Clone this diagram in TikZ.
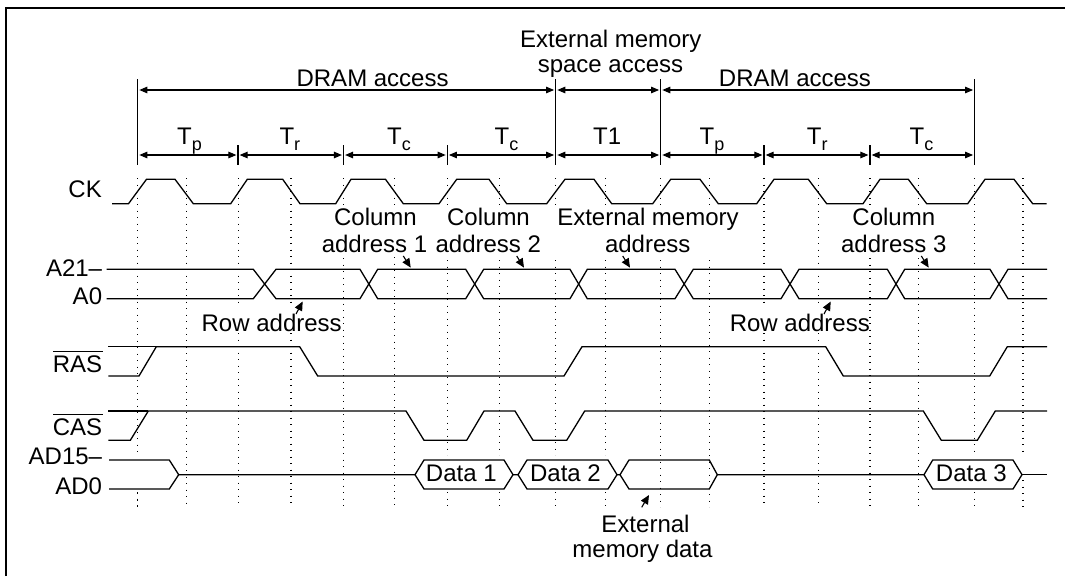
\documentclass[tikz,border=0pt]{standalone}
\usepackage{fontspec}
\setmainfont{Liberation Sans}
\usetikzlibrary{arrows.meta}
\newcommand{\lblfont}{\fontsize{24}{26}\selectfont}
\newcommand{\Tsub}[1]{T\raisebox{-6pt}{\fontsize{18}{18}\selectfont #1}}
\tikzset{
  sig/.style={line width=1.3pt, line join=miter},
  frameline/.style={line width=2pt},
  bar/.style={line width=1.2pt},
  grid/.style={line width=1.1pt, dash pattern=on 1.1pt off 5.4pt},
  dim/.style={line width=1.1pt, {Triangle[length=8pt,width=6.5pt]}-{Triangle[length=8pt,width=6.5pt]}, shorten <=1.6pt, shorten >=1.6pt},
  lbl/.style={font=\lblfont, inner sep=0pt, anchor=base, align=center},
  siglbl/.style={font=\lblfont, inner sep=0pt, anchor=base east},
  tlbl/.style={font=\lblfont, inner sep=0pt, anchor=base west},
  ptr/.style={line width=1.1pt, -{Triangle[length=9pt,width=8pt]}},
}
\begin{document}
\begin{tikzpicture}[x=1pt,y=-1pt]
\useasboundingbox (0,0) rectangle (1065,576);
% frame
\draw[frameline] (6,576) -- (6,8) -- (1065,8);
% dotted grid
\foreach \x/\a/\b/\c/\d in {
 137.7/178/455/493/507,
 186.3/178/340/340/507,
 238.7/178/307/333/507,
 291/178/305/333/507,
 343.7/178/205/258/507,
 394.7/178/205/257/507,
 499.3/178/205/260/455,
 447.3/178/205/260/455,
 555.7/178/205/260/455,
 605.3/178/205/260/455,
 660.7/178/205/260/507,
 709.3/178/205/260/507,
 764/178/307/333/507,
 818.3/178/307/333/507,
 870/178/205/258/507,
 918.3/178/205/258/507,
 974.7/178/340/340/455,
 1023/178/340/340/455}
 { \draw[grid] (\x,\a) -- (\x,\b) (\x,\c) -- (\x,\d); }
\foreach \x in {137.7,447.3,499.3,555.7,605.3,974.7} { \draw[grid] (\x,492) -- (\x,507); }
\draw[grid] (1023,480) -- (1023,507);
% timing bars
\foreach \n/\x in {b0/137.7,b3/555.7,b4/660.7,b7/974.7} {
  \coordinate (\n top) at (\x,79); \coordinate (\n low) at (\x,165);
  \coordinate (\n a) at (\x,90); \coordinate (\n t) at (\x,155);
  \draw[bar] (\n top) -- (\n low);
}
\foreach \n/\x in {s1/238,s2/343.5,s3/447.3,s5/764,s6/870} {
  \coordinate (\n top) at (\x,145); \coordinate (\n low) at (\x,165);
  \coordinate (\n t) at (\x,155);
  \draw[bar] (\n top) -- (\n low);
}
\draw[dim] (b0a) -- (b3a);
\draw[dim] (b3a) -- (b4a);
\draw[dim] (b4a) -- (b7a);
\draw[dim] (b0t) -- (s1t);
\draw[dim] (s1t) -- (s2t);
\draw[dim] (s2t) -- (s3t);
\draw[dim] (s3t) -- (b3t);
\draw[dim] (b3t) -- (b4t);
\draw[dim] (b4t) -- (s5t);
\draw[dim] (s5t) -- (s6t);
\draw[dim] (s6t) -- (b7t);
% top labels
\node[lbl] (dram1) at (372.6,86) {DRAM access};
\node[lbl] (dram2) at (795,86) {DRAM access};
\node[lbl] (ext1) at (610.8,47) {External memory};
\node[lbl] (ext2) at (610.5,72.7) {space access};
\node[tlbl] (t1) at (177,144.7) {\Tsub{p}};
\node[tlbl] (t2) at (279.3,144.7) {\Tsub{r}};
\node[tlbl] (t3) at (387,144.7) {\Tsub{c}};
\node[tlbl] (t4) at (494.4,144.7) {\Tsub{c}};
\node[tlbl] (t5) at (593,144.7) {T1};
\node[tlbl] (t6) at (699.4,144.7) {\Tsub{p}};
\node[tlbl] (t7) at (806.7,144.7) {\Tsub{r}};
\node[tlbl] (t8) at (909.4,144.7) {\Tsub{c}};
% signal labels
\node[siglbl] (ck) at (102,197) {CK};
\node[siglbl] (a21) at (102.3,276) {A21–};
\node[siglbl] (a0) at (102.3,304.7) {A0};
\node[siglbl] (ras) at (102.3,372) {RAS};
\node[siglbl] (cas) at (102.3,435.7) {CAS};
\node[siglbl] (ad15) at (102.3,464.3) {AD15–};
\node[siglbl] (ad0) at (102.3,494) {AD0};
\draw[line width=1pt] (ras.base east) ++(-49,-21) -- ++(50,0);
\draw[line width=1pt] (cas.base east) ++(-49,-21.7) -- ++(50,0);
% CK
\draw[sig] (112,203.7) -- (128.5,203.7) -- (146.5,179.3) -- (175,179.3) -- (193.3,203.7) -- (230.7,203.7)
 -- (247.3,179.3) -- (282.7,179.3) -- (300,203.7) -- (335.7,203.7) -- (351,179.3) -- (385.5,179.3)
 -- (403.3,203.7) -- (439,203.7) -- (456.7,179.3) -- (489,179.3) -- (506.7,203.7) -- (546.7,203.7)
 -- (565,179.3) -- (594,179.3) -- (611.7,203.7) -- (652.7,203.7) -- (670.7,179.3) -- (700,179.3)
 -- (718.3,203.7) -- (756.7,203.7) -- (774,179.3) -- (808.3,179.3) -- (826.7,203.7) -- (863,203.7)
 -- (880,179.3) -- (908.3,179.3) -- (926.7,203.7) -- (967.7,203.7) -- (985,179.3) -- (1014,179.3)
 -- (1032.7,203.7) -- (1046.7,203.7);
% Address bus
\draw[sig] (106.7,269.3) -- (253.3,269.3) -- (276,298.7) -- (360,298.7) -- (377.7,269.3) -- (465.7,269.3)
 -- (483.7,298.7) -- (570,298.7) -- (587.3,269.3) -- (675,269.3) -- (693.3,298.7) -- (781,298.7)
 -- (799,269.3) -- (887.3,269.3) -- (904.7,298.7) -- (990,298.7) -- (1008,269.3) -- (1047,269.3);
\draw[sig] (106.7,298.7) -- (253.3,298.7) -- (276,269.3) -- (360,269.3) -- (377.7,298.7) -- (465.7,298.7)
 -- (483.7,269.3) -- (570,269.3) -- (587.3,298.7) -- (675,298.7) -- (693.3,269.3) -- (781,269.3)
 -- (799,298.7) -- (887.3,298.7) -- (904.7,269.3) -- (990,269.3) -- (1008,298.7) -- (1047,298.7);
% RAS
\draw[sig] (108.3,376) -- (139,376) -- (156.3,346.7) -- (299.7,346.7) -- (317.7,376) -- (564,376)
 -- (582,346.7) -- (825.7,346.7) -- (843.3,376) -- (989.7,376) -- (1007.3,346.7) -- (1047,346.7);
\draw[sig] (108.3,346.7) -- (156.3,346.7);
% CAS
\draw[sig] (108.3,440.3) -- (130.3,440.3) -- (148.3,411) -- (406,411) -- (424,440.3) -- (466.7,440.3)
 -- (484,411) -- (515,411) -- (533,440.3) -- (566.7,440.3) -- (584.7,411) -- (923.3,411) -- (941.3,440.3)
 -- (977.3,440.3) -- (995.3,411) -- (1047,411);
\draw[sig] (108.3,411) -- (148.3,411);
% AD bus
\draw[sig] (109,460) -- (169.3,460) -- (178.7,474.7) -- (169.3,489) -- (109,489);
\draw[sig] (178.7,474.7) -- (415,474.7) -- (424,460) -- (504,460) -- (513,474.7) -- (504,489) -- (424,489) -- (415,474.7);
\draw[sig] (513,474.7) -- (518,474.7) -- (527,460) -- (608,460) -- (617,474.7) -- (608,489) -- (527,489) -- (518,474.7);
\draw[sig] (617,474.7) -- (620,474.7) -- (629,460) -- (709.3,460) -- (717.3,474.7) -- (709.3,489) -- (629,489) -- (620,474.7);
\draw[sig] (717.3,474.7) -- (924,474.7) -- (932.7,460) -- (1013,460) -- (1022,474.7) -- (1013,489) -- (932.7,489) -- (924,474.7);
\draw[sig] (1022,474.7) -- (1047,474.7);
% Data labels
\node[lbl] (d1) at (461.3,481.3) {Data 1};
\node[lbl] (d2) at (565.5,481.3) {Data 2};
\node[lbl] (d3) at (971.3,481.3) {Data 3};
% address labels
\node[lbl] (c1a) at (375.5,225.7) {Column};
\node[lbl] (c1b) at (374.5,252.3) {address 1};
\node[lbl] (c2a) at (488.5,225.7) {Column};
\node[lbl] (c2b) at (488.3,252.3) {address 2};
\node[lbl] (e1a) at (648,225.7) {External memory};
\node[lbl] (e1b) at (647.7,252.3) {address};
\node[lbl] (c3a) at (893.8,225.7) {Column};
\node[lbl] (c3b) at (893.8,252.3) {address 3};
\node[lbl] (r1) at (271.7,331.7) {Row address};
\node[lbl] (r2) at (799.8,331.7) {Row address};
\node[lbl] (e2a) at (645.5,532.3) {External};
\node[lbl] (e2b) at (642.5,557.3) {memory data};
% pointer arrows
\foreach \n/\xa/\ya/\xb/\yb in {
 p1/403.3/256/410.7/267.6, p2/516.7/256/524/267.6, p3/622.7/256/630/267.6, p4/921.3/256/928.7/267.6,
 p5/296/314/302.7/301.5, p6/824/314/830.7/301.5, p7/641.7/507.3/649/495}
{ \coordinate (\n s) at (\xa,\ya); \coordinate (\n e) at (\xb,\yb); \draw[ptr] (\n s) -- (\n e); }
\end{tikzpicture}
\end{document}
